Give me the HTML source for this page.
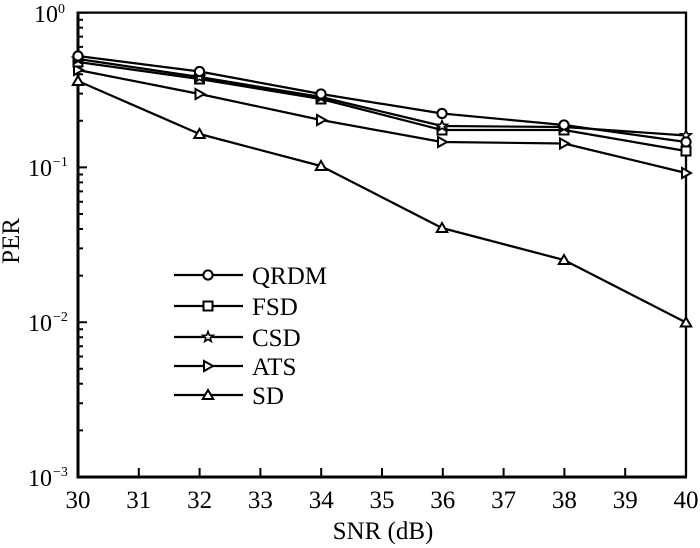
<!DOCTYPE html>
<html><head><meta charset="utf-8"><style>
html,body{margin:0;padding:0;background:#fff;}
svg{display:block;}
text{font-family:"Liberation Serif",serif;fill:#000;}
</style></head><body>
<svg width="700" height="548" viewBox="0 0 700 548" xmlns="http://www.w3.org/2000/svg">
<defs>
<circle id="mc" r="4.6" fill="#fff" stroke="#000" stroke-width="2"/>
<rect id="ms" x="-4.5" y="-4.5" width="9" height="9" fill="#fff" stroke="#000" stroke-width="2"/>
<polygon id="mst" points="0,-5.5 1.35,-1.86 5.23,-1.7 2.19,0.71 3.23,4.45 0,2.3 -3.23,4.45 -2.19,0.71 -5.23,-1.7 -1.35,-1.86" fill="#fff" stroke="#000" stroke-width="1.6"/>
<polygon id="mr" points="-4,-5 5,0 -4,5" fill="#fff" stroke="#000" stroke-width="2"/>
<polygon id="mu" points="0,-5 5.2,4 -5.2,4" fill="#fff" stroke="#000" stroke-width="2"/>
</defs>

<!-- ticks -->
<g stroke="#000" stroke-width="2">
<path d="M78,12.6 h9 M78,167.4 h9 M78,322.2 h9 M78,477 h9"/>
<path d="M78,430.4h5M78,403.2h5M78,383.8h5M78,368.8h5M78,356.5h5M78,346.2h5M78,337.2h5M78,329.3h5
M78,275.6h5M78,248.4h5M78,229h5M78,214h5M78,201.7h5M78,191.4h5M78,182.4h5M78,174.5h5
M78,120.8h5M78,93.6h5M78,74.2h5M78,59.2h5M78,46.9h5M78,36.6h5M78,27.6h5M78,19.7h5"/>
<path d="M138.8,477v-9M199.6,477v-9M260.4,477v-9M321.2,477v-9M382,477v-9M442.8,477v-9M503.6,477v-9M564.4,477v-9M625.2,477v-9"/>
</g>

<!-- frame -->
<path d="M78,12.6 H686 V477" fill="none" stroke="#000" stroke-width="2.3"/>
<path d="M78,11.5 V477 H687" fill="none" stroke="#000" stroke-width="3"/>

<!-- series -->
<g fill="none" stroke="#000" stroke-width="2.2" stroke-linejoin="round">
<polyline points="78,56 199.5,71.5 321,94 442,113.5 564,125 686,142"/>
<polyline points="78,62 199.5,79 321,99 442,130 564,130 686,151"/>
<polyline points="78,59 199.5,77 321,97 442,126 564,127 686,135.5"/>
<polyline points="78,70 199.5,94 321,120 442,142 564,143.5 686,173"/>
<polyline points="78,81 199.5,134 321,166 442,228 564,260 686,322.5"/>
</g>
<g>
<use href="#mu" x="78" y="81"/><use href="#mu" x="199.5" y="134"/><use href="#mu" x="321" y="166"/><use href="#mu" x="442" y="228"/><use href="#mu" x="564" y="260"/><use href="#mu" x="686" y="322.5"/>
<use href="#mr" x="78" y="70"/><use href="#mr" x="199.5" y="94"/><use href="#mr" x="321" y="120"/><use href="#mr" x="442" y="142"/><use href="#mr" x="564" y="143.5"/><use href="#mr" x="686" y="173"/>
<use href="#ms" x="78" y="62"/><use href="#ms" x="199.5" y="79"/><use href="#ms" x="321" y="99"/><use href="#ms" x="442" y="130"/><use href="#ms" x="564" y="130"/><use href="#ms" x="686" y="151"/>
<use href="#mst" x="78" y="59"/><use href="#mst" x="199.5" y="77"/><use href="#mst" x="321" y="97"/><use href="#mst" x="442" y="126"/><use href="#mst" x="564" y="127"/><use href="#mst" x="686" y="135.5"/>
<use href="#mc" x="78" y="56"/><use href="#mc" x="199.5" y="71.5"/><use href="#mc" x="321" y="94"/><use href="#mc" x="442" y="113.5"/><use href="#mc" x="564" y="125"/><use href="#mc" x="686" y="142"/>
</g>

<!-- legend -->
<g stroke="#000" stroke-width="2.2">
<path d="M174,275 H243 M174,306 H243 M174,337 H243 M174,366 H243 M174,395 H243"/>
</g>
<use href="#mc" x="208" y="275"/>
<use href="#ms" x="208" y="306"/>
<use href="#mst" x="208" y="337"/>
<use href="#mr" x="208" y="366"/>
<use href="#mu" x="208" y="395"/>
<g font-size="25">
<text x="252" y="284">QRDM</text>
<text x="252" y="315">FSD</text>
<text x="252" y="346">CSD</text>
<text x="252" y="375">ATS</text>
<text x="252" y="404">SD</text>
</g>

<!-- y tick labels -->
<g font-size="24">
<text x="34" y="22">10</text><text x="58" y="13" font-size="14">0</text>
<text x="28" y="176">10</text><text x="53" y="166" font-size="14">−1</text>
<text x="28" y="331">10</text><text x="53" y="321" font-size="14">−2</text>
<text x="28" y="486">10</text><text x="53" y="476" font-size="14">−3</text>
</g>

<!-- x tick labels -->
<g font-size="25" text-anchor="middle">
<text x="78" y="508">30</text>
<text x="138.8" y="508">31</text>
<text x="199.6" y="508">32</text>
<text x="260.4" y="508">33</text>
<text x="321.2" y="508">34</text>
<text x="382" y="508">35</text>
<text x="442.8" y="508">36</text>
<text x="503.6" y="508">37</text>
<text x="564.4" y="508">38</text>
<text x="625.2" y="508">39</text>
<text x="686" y="508">40</text>
</g>

<text x="383" y="539" font-size="25" text-anchor="middle">SNR (dB)</text>
<text transform="translate(19,241) rotate(-90)" font-size="25" text-anchor="middle">PER</text>
</svg>
</body></html>
